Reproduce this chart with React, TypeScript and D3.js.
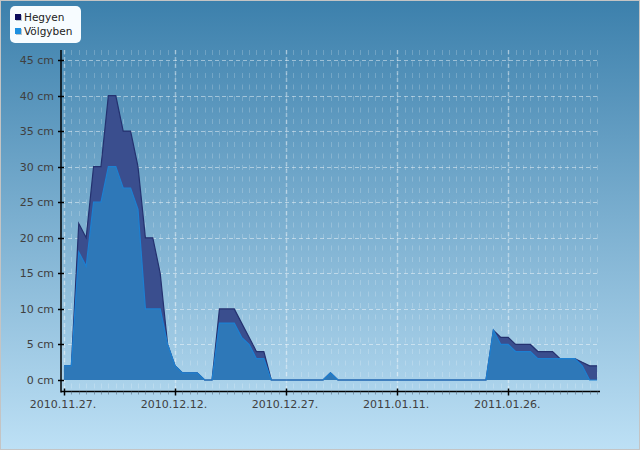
import React, { useEffect, useRef } from 'react';
import * as d3 from 'd3';

// daily snow depth (cm), first day 2010.11.27.
const startDay = new Date(2010, 10, 27);
const hegyen = [
  2, 2, 22, 20, 30, 30, 40, 40, 35, 35,
  30, 20, 20, 15, 5, 2, 1, 1, 1, 0,
  0, 10, 10, 10, 8, 6, 4, 4, 0, 0,
  0, 0, 0, 0, 0, 0, 1, 0, 0, 0,
  0, 0, 0, 0, 0, 0, 0, 0, 0, 0,
  0, 0, 0, 0, 0, 0, 0, 0, 7, 6,
  6, 5, 5, 5, 4, 4, 4, 3, 3, 3,
  2.5, 2, 2,
];
const volgyben = [
  2, 2, 18, 16, 25, 25, 30, 30, 27, 27,
  24, 10, 10, 10, 5, 2, 1, 1, 1, 0,
  0, 8, 8, 8, 6, 5, 3, 3, 0, 0,
  0, 0, 0, 0, 0, 0, 1, 0, 0, 0,
  0, 0, 0, 0, 0, 0, 0, 0, 0, 0,
  0, 0, 0, 0, 0, 0, 0, 0, 7, 5,
  5, 4, 4, 4, 3, 3, 3, 3, 3, 3,
  2, 0, 0,
];
const seriesNames = ['Hegyen', 'Völgyben'];
const seriesColors = ['#0c0c5c', '#1e90e0'];
const yTicks = [0, 5, 10, 15, 20, 25, 30, 35, 40, 45];
const xTickStep = 15; // days between labelled ticks

const W = 640;
const H = 450;
const FONT = '"DejaVu Sans", Verdana, sans-serif';

export default function App() {
  const ref = useRef<SVGSVGElement>(null);

  useEffect(() => {
    document.body.style.margin = '0';
    const svg = d3.select(ref.current);
    svg.selectAll('*').remove();

    const days = hegyen.map((_, i) => d3.timeDay.offset(startDay, i));
    const lastDay = days[days.length - 1];

    const x = d3
      .scaleTime()
      .domain([
        new Date(startDay.getTime() - 0.4 * 864e5),
        new Date(lastDay.getTime() + 0.4 * 864e5),
      ])
      .range([61, 600]);
    const y = d3.scaleLinear().domain([0, 45]).range([380, 60]);

    const left = 61;
    const right = 600;
    const top = 50;
    const bottom = 391.5;

    // background
    const defs = svg.append('defs');
    const grad = defs
      .append('linearGradient')
      .attr('id', 'bg')
      .attr('x1', 0)
      .attr('y1', 0)
      .attr('x2', 0)
      .attr('y2', 1);
    grad.append('stop').attr('offset', '0%').attr('stop-color', '#3c80ac');
    grad.append('stop').attr('offset', '100%').attr('stop-color', '#bde0f5');
    svg
      .append('rect')
      .attr('x', 0.5)
      .attr('y', 0.5)
      .attr('width', W - 1)
      .attr('height', H - 1)
      .attr('fill', 'url(#bg)')
      .attr('stroke', '#c4c4c4');

    // grid - minor daily verticals
    const grid = svg.append('g');
    grid
      .selectAll('line.minor')
      .data(days)
      .enter()
      .append('line')
      .attr('x1', (d) => Math.round(x(d)) + 0.5)
      .attr('x2', (d) => Math.round(x(d)) + 0.5)
      .attr('y1', top)
      .attr('y2', bottom)
      .attr('stroke', 'rgba(255,255,255,0.2)')
      .attr('stroke-dasharray', '5,6.5');

    const majorDays = days.filter((_, i) => i % xTickStep === 0);
    grid
      .selectAll('line.majorx')
      .data(majorDays)
      .enter()
      .append('line')
      .attr('x1', (d) => Math.round(x(d)) + 0.5)
      .attr('x2', (d) => Math.round(x(d)) + 0.5)
      .attr('y1', top)
      .attr('y2', bottom)
      .attr('stroke', 'rgba(255,255,255,0.4)')
      .attr('stroke-width', 1.5)
      .attr('stroke-dasharray', '4,3');

    grid
      .selectAll('line.majory')
      .data(yTicks.slice(1))
      .enter()
      .append('line')
      .attr('x1', left)
      .attr('x2', 598)
      .attr('y1', (d) => Math.round(y(d)) + 0.5)
      .attr('y2', (d) => Math.round(y(d)) + 0.5)
      .attr('stroke', 'rgba(255,255,255,0.45)')
      .attr('stroke-dasharray', '4,3');

    // areas
    const area = (vals: number[]) =>
      d3
        .area<number>()
        .x((_, i) => x(days[i]))
        .y0(y(0))
        .y1((d) => y(d))(vals);
    const line = (vals: number[]) =>
      d3
        .line<number>()
        .x((_, i) => x(days[i]))
        .y((d) => y(d))(vals);

    svg
      .append('path')
      .attr('d', area(hegyen))
      .attr('fill', '#3a4e8e');
    svg
      .append('path')
      .attr('d', line(hegyen))
      .attr('fill', 'none')
      .attr('stroke', '#24316f')
      .attr('stroke-width', 1.2);

    svg
      .append('path')
      .attr('d', area(volgyben))
      .attr('fill', '#2e78b8');
    svg
      .append('path')
      .attr('d', line(volgyben))
      .attr('fill', 'none')
      .attr('stroke', '#1d80d2')
      .attr('stroke-width', 1.2);

    // axes
    const axes = svg.append('g');
    axes
      .append('line')
      .attr('x1', left)
      .attr('x2', left)
      .attr('y1', top)
      .attr('y2', bottom + 1)
      .attr('stroke', '#000')
      .attr('stroke-width', 1.5);
    axes
      .append('line')
      .attr('x1', left)
      .attr('x2', right)
      .attr('y1', bottom)
      .attr('y2', bottom)
      .attr('stroke', '#000')
      .attr('stroke-width', 1.5);

    axes
      .selectAll('line.yt')
      .data(yTicks)
      .enter()
      .append('line')
      .attr('x1', left - 3)
      .attr('x2', left + 3)
      .attr('y1', (d) => Math.round(y(d)) + 0.5)
      .attr('y2', (d) => Math.round(y(d)) + 0.5)
      .attr('stroke', '#000')
      .attr('stroke-width', 1.5);
    axes
      .selectAll('text.yl')
      .data(yTicks)
      .enter()
      .append('text')
      .attr('x', 54)
      .attr('y', (d) => y(d) + 4)
      .attr('text-anchor', 'end')
      .attr('font-family', FONT)
      .attr('font-size', '11px')
      .attr('fill', '#404040')
      .text((d) => `${d} cm`);

    axes
      .selectAll('line.xminor')
      .data(days)
      .enter()
      .append('line')
      .attr('x1', (d) => Math.round(x(d)) + 0.5)
      .attr('x2', (d) => Math.round(x(d)) + 0.5)
      .attr('y1', bottom)
      .attr('y2', bottom + 3)
      .attr('stroke', 'rgba(90,110,130,0.6)');
    axes
      .selectAll('line.xmajor')
      .data(majorDays)
      .enter()
      .append('line')
      .attr('x1', (d) => Math.round(x(d)) + 0.5)
      .attr('x2', (d) => Math.round(x(d)) + 0.5)
      .attr('y1', bottom - 3)
      .attr('y2', bottom + 4)
      .attr('stroke', '#000')
      .attr('stroke-width', 1.5);
    const fmt = d3.timeFormat('%Y.%m.%d.');
    axes
      .selectAll('text.xl')
      .data(majorDays)
      .enter()
      .append('text')
      .attr('x', (d) => x(d) - 1)
      .attr('y', 408)
      .attr('text-anchor', 'middle')
      .attr('font-family', FONT)
      .attr('font-size', '11px')
      .attr('fill', '#404040')
      .text((d) => fmt(d));

    // legend
    const lg = svg.append('g');
    lg.append('rect')
      .attr('x', 10)
      .attr('y', 6)
      .attr('width', 71)
      .attr('height', 37)
      .attr('rx', 5)
      .attr('fill', '#f7fcff');
    seriesNames.forEach((name, i) => {
      const yy = 14 + i * 14;
      lg.append('rect')
        .attr('x', 16)
        .attr('y', yy + 1)
        .attr('width', 6)
        .attr('height', 6)
        .attr('fill', '#b8c4cc');
      lg.append('rect')
        .attr('x', 15)
        .attr('y', yy)
        .attr('width', 6)
        .attr('height', 6)
        .attr('fill', seriesColors[i]);
      lg.append('text')
        .attr('x', 24)
        .attr('y', yy + 7)
        .attr('font-family', FONT)
        .attr('font-size', '10.5px')
        .attr('fill', '#222')
        .text(name);
    });
  }, []);

  return <svg ref={ref} width={W} height={H} style={{ display: 'block' }} />;
}
